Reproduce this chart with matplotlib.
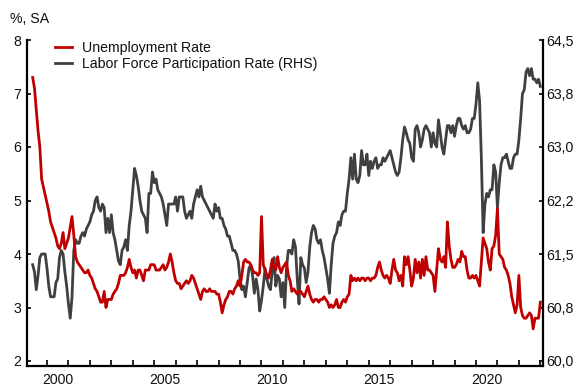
import numpy as np
import pandas as pd
import matplotlib
matplotlib.use('Agg')
import matplotlib.pyplot as plt

plt.rcParams['font.family'] = ['Liberation Sans', 'DejaVu Sans']

# monthly, May 1999 .. Jan 2023
months = pd.date_range('1999-05-01', '2023-01-01', freq='MS')

unemployment = [
    7.3, 7.1, 6.7, 6.3, 6.0, 5.4, 5.25, 5.1,                          # 1999
    4.95, 4.8, 4.6, 4.5, 4.4, 4.3, 4.15, 4.1, 4.2, 4.4, 4.1, 4.2,     # 2000
    4.3, 4.5, 4.7, 4.35, 3.95, 3.85, 3.8, 3.75, 3.7, 3.65, 3.65, 3.7, # 2001
    3.6, 3.55, 3.45, 3.35, 3.3, 3.2, 3.1, 3.1, 3.3, 3.0, 3.15, 3.15,  # 2002
    3.15, 3.25, 3.3, 3.35, 3.45, 3.6, 3.6, 3.6, 3.65, 3.75, 3.9, 3.75,
    3.65, 3.7, 3.55, 3.7, 3.7, 3.6, 3.5, 3.7, 3.7, 3.7, 3.8, 3.8,
    3.8, 3.7, 3.7, 3.7, 3.75, 3.8, 3.7, 3.75, 3.85, 4.0, 3.85, 3.65,  # 2005
    3.5, 3.45, 3.45, 3.35, 3.4, 3.45, 3.5, 3.45, 3.5, 3.6, 3.55, 3.45,
    3.35, 3.25, 3.15, 3.3, 3.35, 3.3, 3.3, 3.35, 3.3, 3.3, 3.3, 3.25,
    3.25, 3.1, 2.9, 3.05, 3.15, 3.2, 3.3, 3.3, 3.25, 3.35, 3.4, 3.5,
    3.4, 3.6, 3.85, 3.9, 3.85, 3.85, 3.8, 3.7, 3.65, 3.65, 3.6, 3.65,
    4.7, 3.8, 3.7, 3.6, 3.55, 3.7, 3.9, 3.75, 3.7, 3.95, 3.75, 3.65,  # 2010
    3.75, 3.8, 3.85, 3.6, 3.5, 3.3, 3.35, 3.3, 3.25, 3.3, 3.3, 3.25,
    3.2, 3.3, 3.4, 3.25, 3.15, 3.1, 3.15, 3.15, 3.1, 3.15, 3.15, 3.2,
    3.15, 3.1, 3.0, 3.05, 3.0, 3.05, 3.15, 3.0, 3.0, 3.1, 3.15, 3.1,
    3.2, 3.25, 3.6, 3.5, 3.55, 3.5, 3.55, 3.5, 3.55, 3.55, 3.5, 3.55,
    3.55, 3.5, 3.55, 3.55, 3.6, 3.75, 3.85, 3.7, 3.6, 3.55, 3.6, 3.55, # 2015
    3.45, 3.7, 3.9, 3.7, 3.65, 3.5, 3.6, 3.4, 3.95, 3.8, 3.95, 3.7,
    3.4, 3.55, 3.9, 3.65, 3.85, 3.55, 3.9, 3.6, 3.95, 3.7, 3.7, 3.65,
    3.6, 3.3, 3.7, 4.1, 3.9, 3.85, 3.95, 3.75, 4.6, 4.15, 3.9, 3.75,
    3.75, 3.8, 3.9, 3.85, 4.05, 3.95, 3.95, 3.7, 3.55, 3.55, 3.6, 3.55,
    3.6, 3.5, 3.4, 3.85, 4.3, 4.2, 4.1, 3.85, 3.7, 4.1, 4.15, 4.35,   # 2020
    4.85, 4.0, 3.95, 3.9, 3.75, 3.7, 3.6, 3.45, 3.2, 3.05, 2.9, 3.05,
    3.6, 3.0, 2.85, 2.8, 2.8, 2.85, 2.9, 2.85, 2.6, 2.8, 2.8, 2.8,
    3.1,                                                              # 2023
]

participation = [
    61.35, 61.25, 61.0, 61.2, 61.45, 61.5, 61.5, 61.5,                            # 1999
    61.3, 61.05, 60.9, 60.9, 60.9, 61.1, 61.15, 61.45, 61.55, 61.5, 61.25, 61.05, # 2000
    60.8, 60.6, 60.9, 61.55, 61.7, 61.65, 61.65, 61.75, 61.8, 61.75, 61.85, 61.9,
    61.95, 62.05, 62.1, 62.25, 62.3, 62.15, 62.1, 62.2, 62.15, 61.8, 62.0, 61.8,
    62.05, 61.8, 61.7, 61.55, 61.4, 61.35, 61.55, 61.6, 61.7, 61.55, 61.9, 62.1,
    62.4, 62.7, 62.6, 62.45, 62.25, 62.1, 62.05, 62.0, 61.8, 62.35, 62.35, 62.65,
    62.5, 62.55, 62.4, 62.35, 62.3, 62.2, 62.05, 61.9, 62.2, 62.2, 62.2, 62.2,   # 2005
    62.3, 62.1, 62.3, 62.3, 62.3, 62.1, 62.0, 62.05, 62.1, 62.0, 62.2, 62.3,
    62.4, 62.3, 62.45, 62.3, 62.25, 62.2, 62.15, 62.1, 62.05, 62.0, 62.2, 62.1,
    62.15, 62.0, 62.0, 61.9, 61.85, 61.75, 61.75, 61.65, 61.55, 61.55, 61.5, 61.4,
    61.15, 61.0, 61.05, 60.9, 61.1, 61.3, 61.35, 61.2, 60.95, 61.15, 61.0, 60.7,
    60.85, 61.05, 61.3, 61.15, 61.05, 61.0, 61.25, 61.45, 61.05, 61.2, 61.15, 60.9, # 2010
    61.1, 60.75, 61.3, 61.55, 61.55, 61.5, 61.7, 61.6, 61.15, 60.8, 61.45, 61.35,
    61.3, 61.1, 61.25, 61.6, 61.8, 61.9, 61.85, 61.7, 61.65, 61.7, 61.55, 61.45,
    61.3, 61.15, 60.95, 61.35, 61.65, 61.75, 61.8, 61.95, 61.9, 62.05, 62.1, 62.1,
    62.35, 62.55, 62.85, 62.55, 62.9, 62.55, 62.5, 62.6, 62.95, 62.75, 62.75, 62.9,
    62.6, 62.8, 62.7, 62.8, 62.85, 62.7, 62.75, 62.75, 62.85, 62.8, 62.85, 62.9,   # 2015
    62.95, 62.85, 62.75, 62.65, 62.6, 62.65, 62.85, 63.1, 63.28, 63.2, 63.1, 63.05,
    62.85, 62.8, 63.25, 63.3, 63.2, 63.0, 63.1, 63.25, 63.3, 63.25, 63.2, 63.0,
    63.2, 63.05, 63.0, 63.38, 63.2, 63.0, 62.9, 63.1, 63.3, 63.3, 63.2, 63.3,
    63.15, 63.3, 63.4, 63.4, 63.3, 63.25, 63.3, 63.2, 63.2, 63.25, 63.4, 63.4,
    63.6, 63.9, 63.65, 62.85, 61.8, 62.2, 62.35, 62.3, 62.4, 62.4, 62.75, 62.65,   # 2020
    62.15, 62.5, 62.75, 62.85, 62.85, 62.9, 62.8, 62.7, 62.7, 62.85, 62.9, 62.9,
    63.1, 63.4, 63.75, 63.8, 64.05, 64.1, 64.0, 64.1, 63.95, 63.95, 63.9, 63.95,
    63.85,                                                                          # 2023
]

year_ticks = list(range(2000, 2024))
year_labels = [2000, 2005, 2010, 2015, 2020]
left_ticks = [2, 3, 4, 5, 6, 7, 8]
right_ticks = [60.0, 60.75, 61.5, 62.25, 63.0, 63.75, 64.5]
right_tick_labels = ['60,0', '60,8', '61,5', '62,2', '63,0', '63,8', '64,5']

red = '#C00000'
grey = '#404040'
txt_col = '#111111'
fs = 10.2

t = months.year + (months.month - 1) / 12

W, H = 573, 388
fig = plt.figure(figsize=(W / 100, H / 100), dpi=100)
ax = fig.add_axes([27 / W, (H - 366) / H, 516 / W, 326 / H])
ax2 = ax.twinx()

ln2, = ax2.plot(t, participation, color=grey, lw=2.0, solid_joinstyle='round')
ln1, = ax.plot(t, unemployment, color=red, lw=2.0, solid_joinstyle='round')

# red above grey
ax.set_zorder(ax2.get_zorder() + 1)
ax.patch.set_visible(False)

ax.set_xlim(1999.068, 2023.124)
ax.set_ylim(2 - 5 / 53.5, 8.0)
ax2.set_ylim(60 - 5 / 53.5 * 0.75, 64.5)

ax.set_xticks(year_ticks)
ax.set_xticklabels([])
ax.set_xticks([y + 0.5 for y in year_labels], minor=True)
ax.set_xticklabels([str(y) for y in year_labels], minor=True, fontsize=fs)
ax.tick_params(axis='x', which='major', direction='in', length=4.5, width=1.2, color='black')
ax.tick_params(axis='x', which='minor', length=0, pad=5, labelcolor=txt_col)

ax.set_yticks(left_ticks)
ax.set_yticklabels([str(v) for v in left_ticks], fontsize=fs)
ax.tick_params(axis='y', direction='in', length=3, width=1.2, pad=4, labelcolor=txt_col)

ax2.set_yticks(right_ticks)
ax2.set_yticklabels(right_tick_labels, fontsize=fs)
ax2.tick_params(axis='y', direction='in', length=3, width=1.2, pad=2, labelcolor=txt_col)

for a in (ax, ax2):
    a.spines['top'].set_visible(False)
    for s in ('left', 'right', 'bottom'):
        a.spines[s].set_linewidth(1.6)
        a.spines[s].set_color('black')
ax.spines['right'].set_visible(False)
ax2.spines['left'].set_visible(False)
ax2.spines['bottom'].set_visible(False)

fig.text(10 / W, 1 - 19 / H, '%, SA', fontsize=fs, va='center', ha='left', color=txt_col)

leg = ax.legend([ln1, ln2], ['Unemployment Rate', 'Labor Force Participation Rate (RHS)'],
                loc='upper left', bbox_to_anchor=(55 / W, 1 - 41 / H),
                bbox_transform=fig.transFigure, frameon=False, fontsize=fs,
                handlelength=1.2, handletextpad=0.7, labelspacing=0.15,
                borderpad=0, borderaxespad=0)
for txt in leg.get_texts():
    txt.set_color(txt_col)

fig.savefig('out.png', dpi=100)
